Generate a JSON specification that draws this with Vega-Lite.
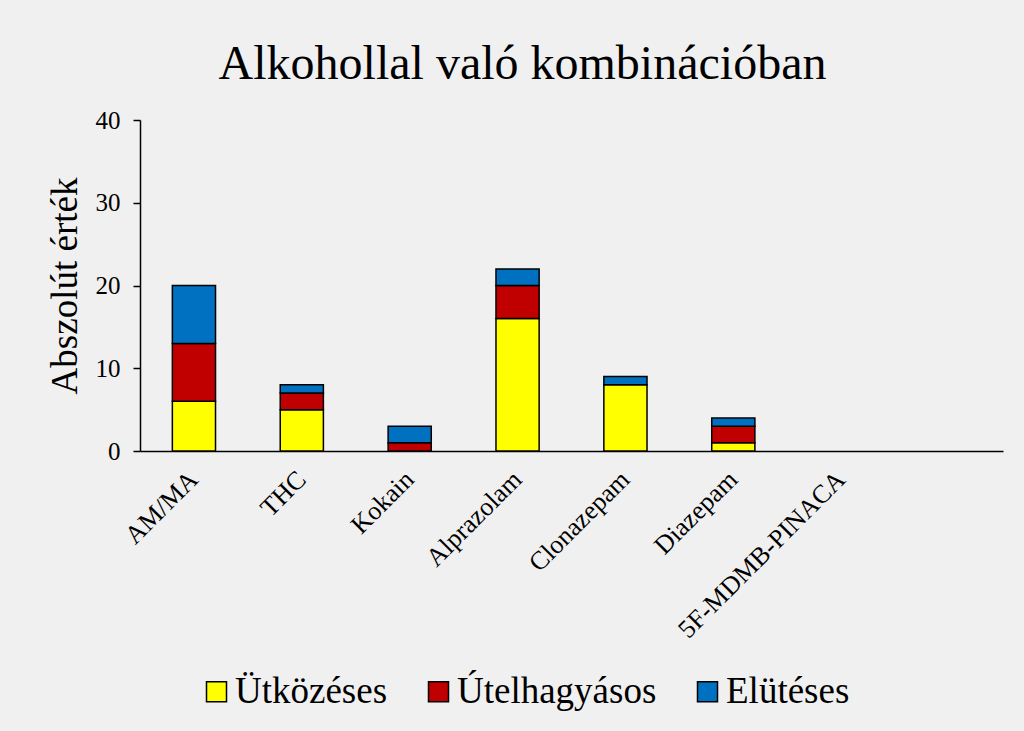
{
  "$schema": "https://vega.github.io/schema/vega-lite/v6.json",
  "autosize": "none",
  "width": 863,
  "height": 331,
  "padding": {"left": 140, "top": 120, "right": 21, "bottom": 280},
  "background": "#f0f0f0",
  "title": {"text": "Alkohollal való kombinációban", "font": "Liberation Serif", "fontSize": 48, "fontWeight": "normal", "color": "#000000", "anchor": "middle", "frame": "group", "dx": -49, "offset": 19},
  "data": {"values": [
    {"drug": "AM/MA", "type": "Ütközéses", "value": 6},
    {"drug": "AM/MA", "type": "Útelhagyásos", "value": 7},
    {"drug": "AM/MA", "type": "Elütéses", "value": 7},
    {"drug": "THC", "type": "Ütközéses", "value": 5},
    {"drug": "THC", "type": "Útelhagyásos", "value": 2},
    {"drug": "THC", "type": "Elütéses", "value": 1},
    {"drug": "Kokain", "type": "Ütközéses", "value": 0},
    {"drug": "Kokain", "type": "Útelhagyásos", "value": 1},
    {"drug": "Kokain", "type": "Elütéses", "value": 2},
    {"drug": "Alprazolam", "type": "Ütközéses", "value": 16},
    {"drug": "Alprazolam", "type": "Útelhagyásos", "value": 4},
    {"drug": "Alprazolam", "type": "Elütéses", "value": 2},
    {"drug": "Clonazepam", "type": "Ütközéses", "value": 8},
    {"drug": "Clonazepam", "type": "Útelhagyásos", "value": 0},
    {"drug": "Clonazepam", "type": "Elütéses", "value": 1},
    {"drug": "Diazepam", "type": "Ütközéses", "value": 1},
    {"drug": "Diazepam", "type": "Útelhagyásos", "value": 2},
    {"drug": "Diazepam", "type": "Elütéses", "value": 1},
    {"drug": "5F-MDMB-PINACA", "type": "Ütközéses", "value": 0},
    {"drug": "5F-MDMB-PINACA", "type": "Útelhagyásos", "value": 0},
    {"drug": "5F-MDMB-PINACA", "type": "Elütéses", "value": 0}
  ]},
  "transform": [{"filter": "datum.value > 0"}],
  "mark": {"type": "bar", "stroke": "#000000", "strokeWidth": 1.5},
  "encoding": {
    "x": {
      "field": "drug", "type": "nominal",
      "scale": {"domain": ["AM/MA", "THC", "Kokain", "Alprazolam", "Clonazepam", "Diazepam", "5F-MDMB-PINACA", " "], "paddingInner": 0.6, "paddingOuter": 0.3},
      "axis": {"title": null, "labelAngle": -45, "labelAlign": "right", "labelBaseline": "middle", "labelFont": "Liberation Serif", "labelFontSize": 26, "labelColor": "#000000", "ticks": false, "labelPadding": 24, "domainColor": "#000000", "domainWidth": 1.5, "labelOverlap": false, "labelLimit": 400}
    },
    "y": {
      "field": "value", "type": "quantitative", "aggregate": "sum", "stack": "zero",
      "scale": {"domain": [0, 40], "nice": false},
      "axis": {"title": "Abszolút érték", "titleFont": "Liberation Serif", "titleFontSize": 37, "titleFontWeight": "normal", "titleColor": "#000000", "titlePadding": 11, "values": [0, 10, 20, 30, 40], "labelFont": "Liberation Serif", "labelFontSize": 25, "labelColor": "#000000", "grid": false, "tickColor": "#000000", "tickSize": 7, "tickWidth": 1.5, "domainColor": "#000000", "domainWidth": 1.5, "labelPadding": 13}
    },
    "color": {
      "field": "type", "type": "nominal",
      "scale": {"domain": ["Ütközéses", "Útelhagyásos", "Elütéses"], "range": ["#ffff00", "#c00000", "#0070c0"]},
      "legend": {"title": null, "orient": "none", "legendX": 58, "legendY": 553, "direction": "horizontal", "symbolType": "square", "symbolSize": 400, "symbolStrokeColor": "#000000", "symbolStrokeWidth": 1.5, "labelFont": "Liberation Serif", "labelFontSize": 37, "labelColor": "#000000", "columnPadding": 32, "labelOffset": 0, "labelLimit": 400}
    },
    "order": {"field": "type", "sort": "descending"}
  },
  "config": {"view": {"stroke": null}}
}
